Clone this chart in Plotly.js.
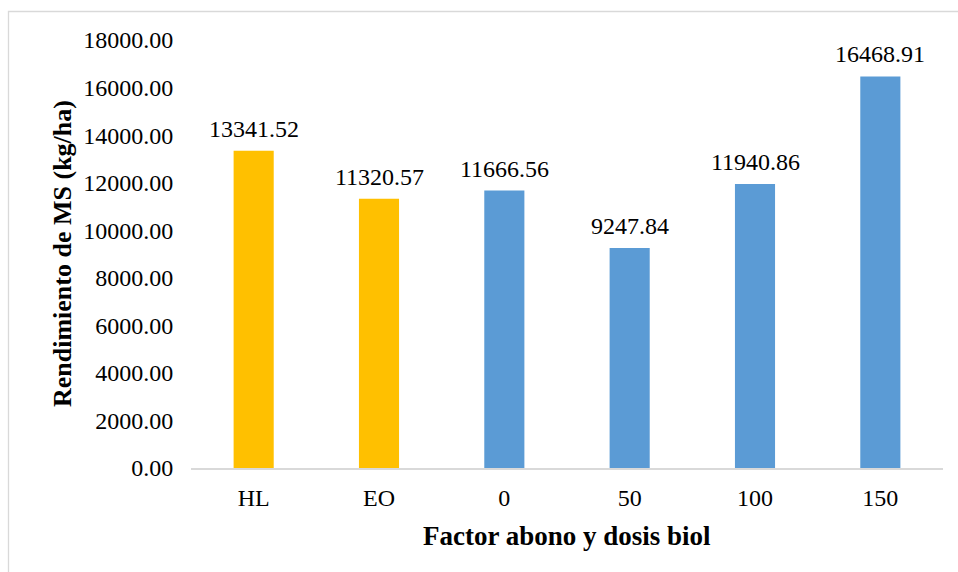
<!DOCTYPE html>
<html>
<head>
<meta charset="utf-8">
<script src="https://cdn.plot.ly/plotly-3.0.1.min.js"></script>
<style>html,body{margin:0;padding:0;background:#fff;}#chart{width:958px;height:572px;}</style>
</head>
<body>
<div id="chart"></div>
<script>
const categories = ['HL', 'EO', '0', '50', '100', '150'];
const values = [13341.52, 11320.57, 11666.56, 9247.84, 11940.86, 16468.91];
const groups = ['abono', 'abono', 'biol', 'biol', 'biol', 'biol'];
const yTicks = [0, 2000, 4000, 6000, 8000, 10000, 12000, 14000, 16000, 18000];
const xTitle = 'Factor abono y dosis biol';
const yTitle = 'Rendimiento de MS (kg/ha)';

const groupColors = {abono: '#FFC000', biol: '#5B9BD5'};
const font = '"Liberation Serif", "Times New Roman", serif';

const trace = {
  type: 'bar',
  x: categories,
  y: values,
  marker: {color: groups.map(g => groupColors[g])},
  hoverinfo: 'x+y'
};

// data labels placed by category index (position on the category axis)
const annotations = categories.map((c, i) => ({
  x: i, y: values[i], xref: 'x', yref: 'y',
  text: values[i].toFixed(2),
  showarrow: false, yanchor: 'bottom', yshift: 7,
  font: {family: font, size: 24, color: '#000'}
}));

// axis titles
annotations.push({
  xref: 'paper', yref: 'paper', x: 0.5, y: -0.159,
  xanchor: 'center', yanchor: 'middle', showarrow: false,
  text: '<b>' + xTitle + '</b>',
  font: {family: font, size: 27, color: '#000'}
});
annotations.push({
  xref: 'paper', yref: 'paper', x: -0.1715, y: 0.5,
  xanchor: 'center', yanchor: 'middle', showarrow: false, textangle: -90,
  text: '<b>' + yTitle + '</b>',
  font: {family: font, size: 26, color: '#000'}
});

const layout = {
  width: 958, height: 572,
  margin: {l: 191, r: 15, t: 40, b: 104},
  paper_bgcolor: '#fff', plot_bgcolor: '#fff',
  bargap: 0.68,
  showlegend: false,
  font: {family: font, size: 24, color: '#000'},
  xaxis: {
    type: 'category',
    range: [-0.5, categories.length - 0.5],
    showline: true, linecolor: '#D9D9D9', linewidth: 1.5,
    ticks: 'outside', ticklen: 8, tickcolor: 'rgba(0,0,0,0)',
    tickfont: {family: font, size: 24, color: '#000'}
  },
  yaxis: {
    range: [0, 18000],
    tickvals: yTicks,
    tickformat: '.2f',
    showgrid: false, zeroline: false, showline: false,
    ticks: 'outside', ticklen: 12, tickcolor: 'rgba(0,0,0,0)',
    tickfont: {family: font, size: 24, color: '#000'}
  },
  annotations: annotations,
  shapes: [{
    type: 'rect', xref: 'paper', yref: 'paper',
    x0: -0.2427, x1: 1.2, y0: -0.4, y1: 1.0666,
    line: {color: '#D9D9D9', width: 1.3}, fillcolor: 'rgba(0,0,0,0)', layer: 'below'
  }]
};

Plotly.newPlot('chart', [trace], layout, {displayModeBar: false, staticPlot: true});
</script>
</body>
</html>
